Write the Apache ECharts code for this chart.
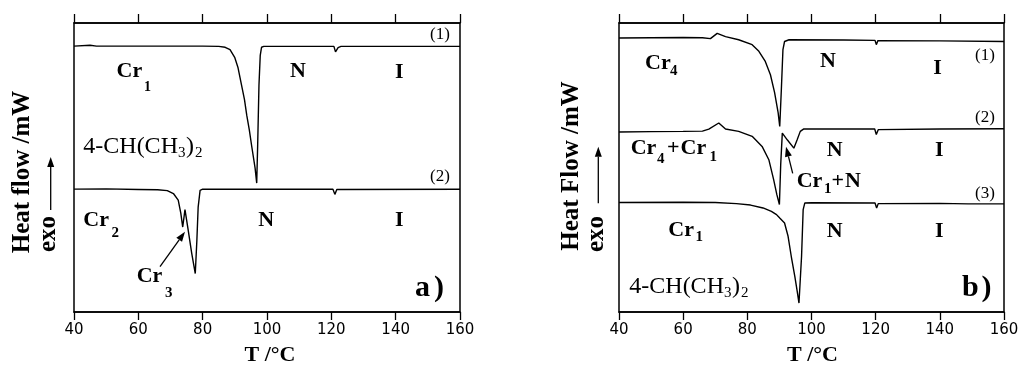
<!DOCTYPE html>
<html><head><meta charset="utf-8">
<script src="https://cdn.jsdelivr.net/npm/echarts/dist/echarts.min.js"></script>
<style>html,body{margin:0;padding:0;background:#fff}#c{width:1021px;height:365px}</style>
</head><body><div id="c"></div><script>
// Tick labels of the temperature axis
const xTickLabels = ['40', '60', '80', '100', '120', '140', '160'];

// Panel a) heat-flow traces, [T (°C), heat flow (arb. units, offset)]
const curveA1 = [[40,92.0],[45,92.3],[47,92.0],[60,92.0],[80,92.0],[85,91.9],[87,91.6],[88.5,90.8],[90,88.0],[91,84.5],[92.1,78.4],[93,73.5],[93.7,68.1],[94.5,63.0],[95.2,57.7],[96.3,49.8],[96.8,44.6],[97.1,57.7],[97.5,78.4],[97.9,88.8],[98.3,91.6],[99,91.9],[110,91.9],[120.8,91.9],[121.3,90.0],[121.6,89.6],[122.1,91.5],[123,91.9],[160,91.9]];
const curveA2 = [[40,42.5],[50,42.6],[60,42.4],[66,42.3],[69,42.0],[70.9,41.0],[72.4,38.7],[73.2,34.2],[73.8,29.4],[74.5,35.4],[75.5,28.3],[76.6,20.3],[77.7,13.3],[78.2,24.8],[78.6,36.3],[79.2,42.1],[80,42.5],[100,42.5],[120.5,42.5],[121.1,40.7],[121.7,42.4],[160,42.5]];

// Panel b) heat-flow traces
const curveB1 = [[40,94.8],[50,94.9],[60,95.0],[66,94.9],[68.5,94.6],[70.6,96.4],[73.2,95.3],[77.3,94.2],[81.5,92.5],[83.6,90.2],[85.6,86.7],[87.2,82.1],[88.5,75.9],[89.6,69.0],[90.1,64.2],[90.6,76.9],[91.1,90.8],[91.6,93.6],[93,94.2],[110,94.1],[119.8,94.0],[120.2,92.5],[120.7,93.9],[140,93.8],[160,93.6]];
const curveB2 = [[40,62.3],[50,62.4],[60,62.5],[66,62.6],[68,63.3],[71.1,65.4],[73.2,63.3],[77.3,62.5],[81.5,60.8],[84.6,57.3],[86.7,52.7],[88.2,45.8],[89.2,40.6],[90.0,37.2],[90.4,51.0],[90.9,61.9],[92.5,59.5],[94.5,56.7],[95.5,59.5],[96.5,62.5],[97.5,63.3],[110,63.3],[119.7,63.3],[120.2,61.4],[120.8,63.1],[140,63.3],[160,63.4]];
const curveB3 = [[40,37.9],[60,38.0],[70,37.9],[76.6,37.5],[81,37.0],[84.9,36.0],[87.5,34.8],[89.1,33.7],[90.1,32.5],[91.6,30.8],[92.7,26.2],[93.7,19.2],[94.8,12.3],[95.5,7.5],[96.1,3.1],[96.9,19.2],[97.4,35.4],[97.9,37.7],[100,37.8],[119.8,37.7],[120.3,36.0],[120.8,37.5],[140,37.6],[148.8,37.4],[149.3,36.8],[149.8,37.4],[160,37.4]];

const SERIF = '"Liberation Serif", "Times New Roman", serif';
function txt(x, y, s, size, bold, align, rot) {
  return { type: 'text', x: x, y: y, rotation: rot || 0, z: 100,
    style: { text: s, font: (bold ? 'bold ' : '') + size + 'px ' + SERIF, fill: '#000',
      align: align || 'left', verticalAlign: 'middle', textAlign: align || 'left', textVerticalAlign: 'middle' } };
}
function arrow(x1, y1, x2, y2, hl, hw) {
  const dx = x2 - x1, dy = y2 - y1, L = Math.hypot(dx, dy), ux = dx / L, uy = dy / L;
  const bx = x2 - ux * hl, by = y2 - uy * hl;
  return [
    { type: 'line', z: 100, shape: { x1: x1, y1: y1, x2: bx, y2: by }, style: { stroke: '#000', lineWidth: 1.3 } },
    { type: 'polygon', z: 100, shape: { points: [[x2, y2], [bx - uy * hw, by + ux * hw], [bx + uy * hw, by - ux * hw]] }, style: { fill: '#000' } }
  ];
}

const chart = echarts.init(document.getElementById('c'), null, { renderer: 'canvas' });
function xAxes(g) {
  const common = { gridIndex: g, type: 'value', min: 40, max: 160, interval: 20,
    axisLine: { show: true, onZero: false, lineStyle: { color: '#000', width: 1.5 } },
    splitLine: { show: false } };
  return [
    Object.assign({}, common, { position: 'bottom',
      axisTick: { show: true, inside: false, length: 8, lineStyle: { color: '#000', width: 1.3 } },
      axisLabel: { show: true, margin: 11, color: '#000', fontFamily: 'DejaVu Sans', fontSize: 15,
        formatter: v => xTickLabels[Math.round((v - 40) / 20)] } }),
    Object.assign({}, common, { position: 'top',
      axisTick: { show: true, inside: false, length: 9, lineStyle: { color: '#000', width: 1.3 } },
      axisLabel: { show: false } })
  ];
}
function line(data, xi, yi) {
  return { type: 'line', data: data, xAxisIndex: xi, yAxisIndex: yi, showSymbol: false, symbol: 'none',
    lineStyle: { color: '#000', width: 1.4 }, animation: false, silent: true };
}

const graphics = [
  // y-axis titles
  txt(23, 172, 'Heat flow /mW', 25, true, 'center', Math.PI / 2),
  txt(49, 234, 'exo', 25, true, 'center', Math.PI / 2),
  txt(572, 166, 'Heat Flow /mW', 25, true, 'center', Math.PI / 2),
  txt(597, 234, 'exo', 25, true, 'center', Math.PI / 2),
  // x-axis titles
  txt(270, 355, 'T /°C', 22, true, 'center'),
  txt(812.5, 355, 'T /°C', 22, true, 'center'),
  // panel a
  txt(430, 35, '(1)', 17, false),
  txt(430, 176.5, '(2)', 17, false),
  txt(116.5, 71.7, 'Cr', 22, true), txt(144, 87.5, '1', 14, true),
  txt(290, 71.7, 'N', 22, true), txt(395, 72.5, 'I', 22, true),
  txt(83.3, 147, '4-CH(CH', 24, false), txt(178, 153.5, '3', 15, false),
  txt(186, 147, ')', 24, false), txt(195, 153.5, '2', 15, false),
  txt(83.3, 220, 'Cr', 22, true), txt(111.5, 233, '2', 15, true),
  txt(258.3, 220, 'N', 22, true), txt(395, 220, 'I', 22, true),
  txt(136.7, 276.7, 'Cr', 22, true), txt(165, 293.3, '3', 15, true),
  txt(415, 288, 'a', 30, true), txt(434, 288, ')', 30, true),
  // panel b
  txt(975, 55.8, '(1)', 17, false),
  txt(975, 117.5, '(2)', 17, false),
  txt(975, 193.3, '(3)', 17, false),
  txt(645, 63.3, 'Cr', 22, true), txt(670, 70.8, '4', 15, true),
  txt(820, 61.5, 'N', 22, true), txt(933.3, 68.3, 'I', 22, true),
  txt(630.7, 148.3, 'Cr', 22, true), txt(657, 159, '4', 15, true),
  txt(667, 148.3, '+', 22, true), txt(680.5, 148.3, 'Cr', 22, true), txt(709.5, 157.5, '1', 15, true),
  txt(826.7, 150, 'N', 22, true), txt(935, 150, 'I', 22, true),
  txt(796.7, 181.7, 'Cr', 22, true), txt(824, 189, '1', 15, true),
  txt(831.5, 181.7, '+', 22, true), txt(845, 181.7, 'N', 22, true),
  txt(668.3, 230, 'Cr', 22, true), txt(695.5, 237.3, '1', 15, true),
  txt(826.7, 231.7, 'N', 22, true), txt(935, 231.7, 'I', 22, true),
  txt(629.3, 286.7, '4-CH(CH', 24, false), txt(724, 293, '3', 15, false),
  txt(732, 286.7, ')', 24, false), txt(741, 293, '2', 15, false),
  txt(962, 288, 'b', 30, true), txt(981.5, 288, ')', 30, true)
].concat(
  arrow(50.7, 210, 50.7, 157, 10, 3.5),
  arrow(598.3, 203.3, 598.3, 146.7, 10, 3.5),
  arrow(160, 266.7, 185, 231.7, 10, 3.5),
  arrow(792.7, 173.3, 786, 146.7, 10, 3.5)
);

chart.setOption({
  animation: false,
  backgroundColor: '#fff',
  grid: [
    { left: 74, top: 23, width: 386, height: 289, show: true, borderColor: '#000', borderWidth: 1.5, backgroundColor: 'transparent', containLabel: false, outerBoundsMode: 'none' },
    { left: 619, top: 23, width: 385, height: 289, show: true, borderColor: '#000', borderWidth: 1.5, backgroundColor: 'transparent', containLabel: false, outerBoundsMode: 'none' }
  ],
  xAxis: xAxes(0).concat(xAxes(1)),
  yAxis: [
    { gridIndex: 0, type: 'value', min: 0, max: 100, show: false },
    { gridIndex: 1, type: 'value', min: 0, max: 100, show: false }
  ],
  series: [
    line(curveA1, 0, 0), line(curveA2, 0, 0),
    line(curveB1, 2, 1), line(curveB2, 2, 1), line(curveB3, 2, 1)
  ],
  graphic: graphics
});
</script></body></html>
